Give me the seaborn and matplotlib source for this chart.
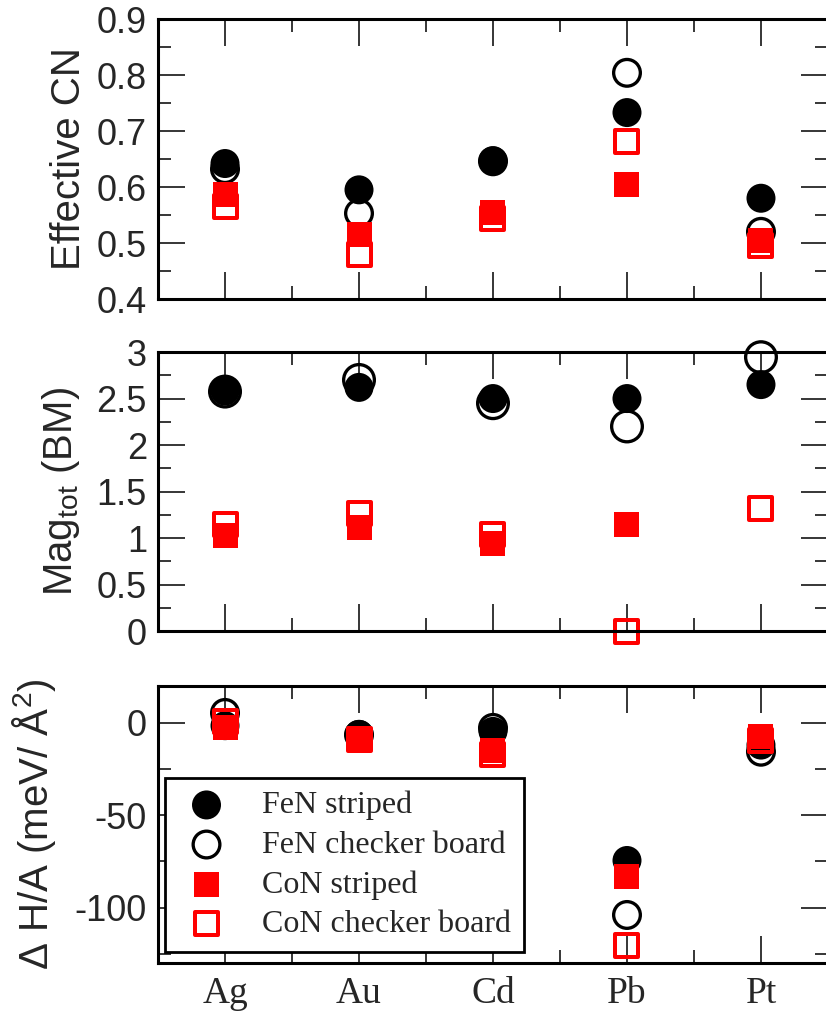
import numpy as np
import pandas as pd
import matplotlib
matplotlib.use("Agg")
import matplotlib.pyplot as plt
import seaborn as sns
from matplotlib.ticker import MultipleLocator, FixedLocator, FormatStrFormatter

# ---- data -------------------------------------------------------------
metals = ["Ag", "Au", "Cd", "Pb", "Pt"]
series_names = ["FeN striped", "FeN checker board", "CoN striped", "CoN checker board"]

# effective coordination number
cn_fen_striped = [0.642, 0.595, 0.647, 0.733, 0.580]
cn_fen_checker = [0.632, 0.553, 0.646, 0.804, 0.520]
cn_con_striped = [0.586, 0.515, 0.554, 0.605, 0.504]
cn_con_checker = [0.566, 0.479, 0.544, 0.681, 0.496]

# total magnetisation (Bohr magnetons)
mag_fen_striped = [2.58, 2.62, 2.50, 2.50, 2.65]
mag_fen_checker = [2.575, 2.70, 2.45, 2.20, 2.945]
mag_con_striped = [1.03, 1.11, 0.945, 1.15, np.nan]
mag_con_checker = [1.15, 1.26, 1.04, 0.0, 1.32]

# formation enthalpy per area (meV / A^2)
dh_fen_striped = [-1.5, -6.2, -4.6, -74.5, -12.0]
dh_fen_checker = [5.4, -6.5, -2.7, -104.0, -15.6]
dh_con_striped = [-2.4, -9.0, -14.8, -83.0, -7.5]
dh_con_checker = [0.8, -9.0, -17.0, -120.7, -9.7]

panels = [
    ("Effective CN", (0.4, 0.9), 0.1, 0.05,
     [cn_fen_striped, cn_fen_checker, cn_con_striped, cn_con_checker]),
    ("Mag$_{tot}$ (BM)", (0.0, 3.0), 0.5, 0.25,
     [mag_fen_striped, mag_fen_checker, mag_con_striped, mag_con_checker]),
    ("\u0394 H/A (meV/ \u00c5$^{2}$)", (-130, 20), 50, 25,
     [dh_fen_striped, dh_fen_checker, dh_con_striped, dh_con_checker]),
]

# ---- style ------------------------------------------------------------
sns.set_style("ticks")
SANS = ["Liberation Sans", "DejaVu Sans"]
SERIF = ["Liberation Serif", "DejaVu Serif"]
plt.rcParams["font.family"] = SANS
plt.rcParams["mathtext.default"] = "regular"
plt.rcParams["axes.unicode_minus"] = False

PX = 0.72  # points per pixel at 100 dpi

marker_styles = {
    "FeN striped": dict(marker="o", facecolor="black", edgecolor="none",
                        s=(29 * PX) ** 2, linewidth=0),
    "FeN checker board": dict(marker="o", facecolor="none", edgecolor="black",
                              s=(26.7 * PX) ** 2, linewidth=3.3 * PX),
    "CoN striped": dict(marker="s", facecolor="red", edgecolor="none",
                        s=(25 * PX) ** 2, linewidth=0),
    "CoN checker board": dict(marker="s", facecolor="none", edgecolor="red",
                              s=(23 * PX) ** 2, linewidth=4 * PX),
}

fig = plt.figure(figsize=(8.26, 10.14), dpi=100)
left, width = 0.1913, 0.8111
axes_boxes = [
    (0.7051, 0.2761),
    (0.3777, 0.2751),
    (0.0503, 0.2732),
]
label_x = [-0.104, -0.113, -0.149]

axes = []
for i, (ylabel, ylim, major, minor, cols) in enumerate(panels):
    bottom, height = axes_boxes[i]
    ax = fig.add_axes([left, bottom, width, height])
    axes.append(ax)

    for name, vals in zip(series_names, cols):
        df = pd.DataFrame({"metal": metals, "value": vals})
        kw = dict(marker_styles[name])
        if i == 1 and name == "FeN checker board":
            kw["s"] = (30.7 * PX) ** 2
        sns.scatterplot(data=df, x="metal", y="value", ax=ax, label=name,
                        clip_on=False, legend=False, zorder=1, **kw)

    ax.set_xlim(-0.5, len(metals) - 0.5)
    ax.set_ylim(*ylim)
    ax.yaxis.set_major_locator(MultipleLocator(major))
    ax.yaxis.set_minor_locator(MultipleLocator(minor))
    ax.yaxis.set_major_formatter(FormatStrFormatter("%g"))
    ax.xaxis.set_minor_locator(FixedLocator(np.arange(len(metals) - 1) + 0.5))

    ax.set_xlabel("")
    ax.set_ylabel(ylabel, fontsize=29, family=SANS)
    ax.yaxis.set_label_coords(label_x[i], 0.5)

    for sp in ax.spines.values():
        sp.set_linewidth(2.2)
        sp.set_color("black")
        sp.set_visible(True)

    ax.tick_params(which="both", direction="in", top=True, right=True,
                   color="black", width=1.1)
    ax.tick_params(which="major", length=19.4)
    ax.tick_params(which="minor", length=9.4)
    ax.tick_params(axis="y", labelsize=26, pad=8)
    ax.tick_params(axis="x", labelsize=27, pad=10,
                   labelbottom=(i == len(panels) - 1))
    for lab in ax.get_xticklabels():
        lab.set_family(SERIF)
    for lab in ax.get_yticklabels():
        lab.set_family(SANS)

# legend in the enthalpy panel
ax = axes[-1]
handles, labels = ax.get_legend_handles_labels()
leg = ax.legend(handles, labels, loc="lower left",
                bbox_to_anchor=(0.0104, 0.0397), borderaxespad=0,
                prop={"family": SERIF, "size": 23}, frameon=True,
                fancybox=False, framealpha=1, edgecolor="black",
                borderpad=0.40, labelspacing=0.32, handlelength=1.8,
                handletextpad=0.85, scatterpoints=1)
leg.get_frame().set_linewidth(2.0)

fig.savefig("out.png", dpi=100)
